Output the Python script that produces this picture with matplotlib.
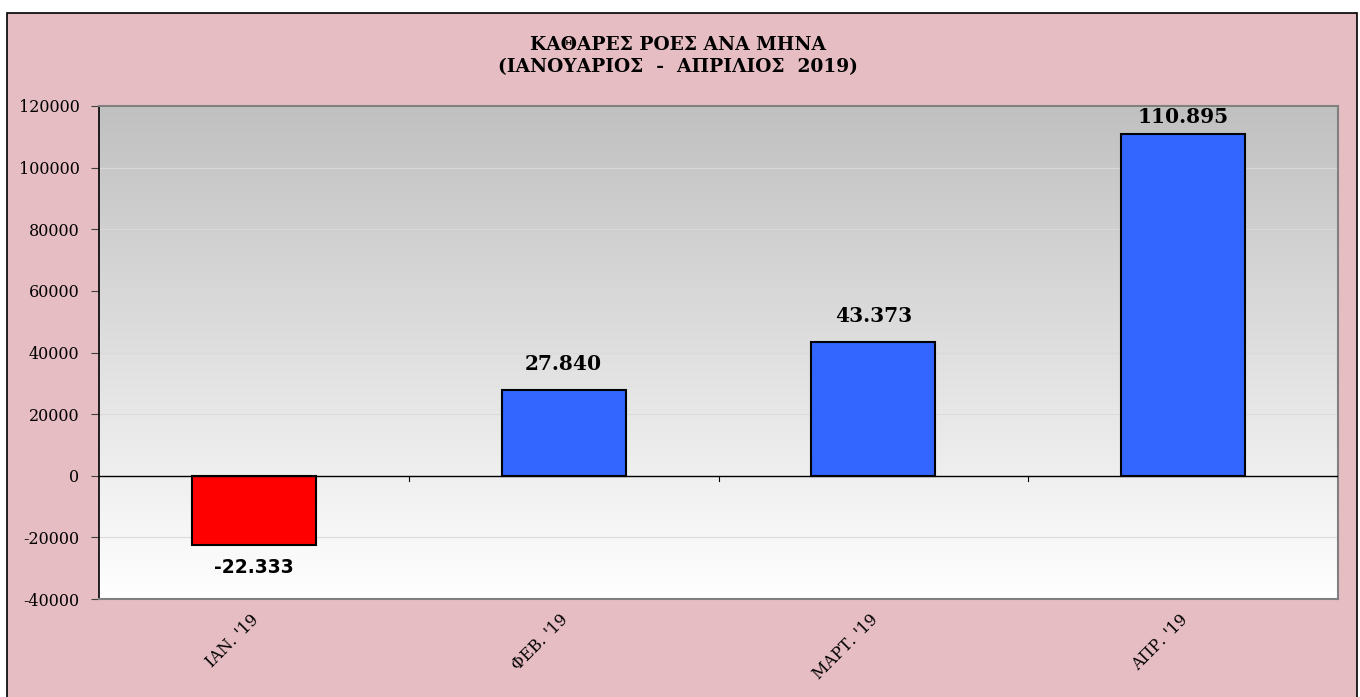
import matplotlib
matplotlib.use("Agg")
import matplotlib.pyplot as plt
import matplotlib.transforms as mtransforms
from matplotlib.patches import Rectangle
import numpy as np

categories = ["ΙΑΝ. '19", "ΦΕΒ. '19", "ΜΑΡΤ. '19", "ΑΠΡ. '19"]
values = [-22333, 27840, 43373, 110895]
yticks = [-40000, -20000, 0, 20000, 40000, 60000, 80000, 100000, 120000]
title_lines = ["ΚΑΘΑΡΕΣ ΡΟΕΣ ΑΝΑ ΜΗΝΑ", "(ΙΑΝΟΥΑΡΙΟΣ  -  ΑΠΡΙΛΙΟΣ  2019)"]

W, H = 1360, 697
fig = plt.figure(figsize=(W / 100, H / 100), dpi=100)
fig.patch.set_facecolor("white")

# pink frame
bg = Rectangle((7 / W, -0.01), (1357 - 7) / W, (H - 13) / H + 0.01, transform=fig.transFigure,
               facecolor="#E6BDC3", edgecolor="black", linewidth=1.2, zorder=-10)
fig.patches.append(bg)

ax = fig.add_axes([99 / W, 1 - 599 / H, (1338 - 99) / W, (599 - 106) / H])
ax.set_zorder(1)
ax.set_xlim(-0.5, len(categories) - 0.5)
ax.set_ylim(-40000, 120000)

# gradient background
grad = np.linspace(1.0, 0.0, 256).reshape(-1, 1)
top = np.array([0xC0, 0xC0, 0xC0]) / 255
bot = np.array([1.0, 1.0, 1.0])
img = grad[..., None] * top + (1 - grad[..., None]) * bot
ax.imshow(img, extent=[-0.5, len(categories) - 0.5, -40000, 120000], aspect="auto",
          origin="upper", zorder=0)

for y in yticks:
    ax.axhline(y, color="#DADADA", linewidth=0.8, zorder=1)

x = np.arange(len(categories))
colors = ["#FF0000" if v < 0 else "#3366FF" for v in values]
ax.bar(x, values, width=0.4, color=colors, edgecolor="black", linewidth=1.5, zorder=3)

ax.axhline(0, color="black", linewidth=1.0, zorder=4)
for b in np.arange(0.5, len(categories) - 0.5, 1.0):
    ax.plot([b, b], [0, -1800], color="black", linewidth=0.8, zorder=4)

px_per_unit = ((599 - 106) / (120000 - (-40000)))
for xi, v in zip(x, values):
    txt = f"{v:,}".replace(",", ".")
    if v >= 0:
        room = (120000 - v) * px_per_unit
        off_px = min(16, room - 21)
        ax.annotate(txt, (xi, v), xytext=(0, off_px * 0.72), textcoords="offset points",
                    ha="center", va="bottom", fontsize=14.5, fontweight="bold",
                    family="DejaVu Serif", zorder=5)
    else:
        ax.annotate(txt, (xi, v), xytext=(0, -9.5), textcoords="offset points", ha="center",
                    va="top", fontsize=13.4, fontweight="bold", family="DejaVu Sans", zorder=5)

ax.set_yticks(yticks)
ax.set_yticklabels([str(t) for t in yticks], family="DejaVu Serif", fontsize=11.5)
ax.tick_params(axis="y", length=6, width=0.8, color="#404040", pad=8)

ax.set_xticks(x)
ax.set_xticklabels(categories, rotation=45, ha="right", va="center", rotation_mode="anchor",
                   family="DejaVu Serif", fontsize=11.5)
ax.tick_params(axis="x", length=0, pad=13)
offset = mtransforms.ScaledTranslation(0.02, 0, fig.dpi_scale_trans)
for lbl in ax.get_xticklabels():
    lbl.set_transform(lbl.get_transform() + offset)

for s in ["top", "right", "bottom"]:
    ax.spines[s].set_color("#808080")
    ax.spines[s].set_linewidth(1.5)
ax.spines["left"].set_color("black")
ax.spines["left"].set_linewidth(1.2)

fig.text(678 / W, 1 - 45 / H, title_lines[0], ha="center", va="center", fontsize=13.4,
         fontweight="bold", family="DejaVu Serif")
fig.text(678 / W, 1 - 67 / H, title_lines[1], ha="center", va="center", fontsize=13.4,
         fontweight="bold", family="DejaVu Serif")

fig.savefig("out.png", dpi=100, facecolor=fig.get_facecolor())
